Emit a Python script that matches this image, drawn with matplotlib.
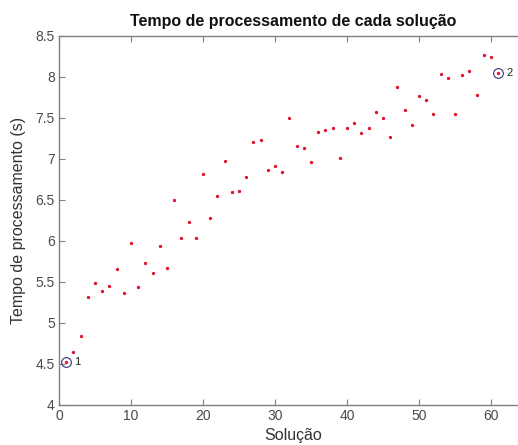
import matplotlib
matplotlib.use("Agg")
import matplotlib.pyplot as plt

plt.rcParams['font.family'] = ['Liberation Sans', 'DejaVu Sans']

solucao = list(range(1, 62))
tempo = [4.52, 4.64, 4.83, 5.31, 5.48, 5.39, 5.44, 5.65, 5.36, 5.97,
         5.43, 5.73, 5.61, 5.94, 5.67, 6.49, 6.03, 6.23, 6.03, 6.81,
         6.27, 6.55, 6.97, 6.59, 6.61, 6.78, 7.20, 7.23, 6.86, 6.91,
         6.84, 7.49, 7.15, 7.13, 6.96, 7.33, 7.35, 7.37, 7.01, 7.37,
         7.43, 7.31, 7.37, 7.57, 7.50, 7.26, 7.87, 7.59, 7.41, 7.76,
         7.71, 7.54, 8.03, 7.98, 7.55, 8.02, 8.07, 7.78, 8.26, 8.24,
         8.05]
marked_idx = [0, 60]
marked_labels = ['1', '2']
xticks = [0, 10, 20, 30, 40, 50, 60]
yticks = [4, 4.5, 5, 5.5, 6, 6.5, 7, 7.5, 8, 8.5]
ytick_labels = ['4', '4.5', '5', '5.5', '6', '6.5', '7', '7.5', '8', '8.5']

W, H = 518, 445
fig = plt.figure(figsize=(W / 100, H / 100), dpi=100)
left, bottom, top = 59, 404.5, 35.7
xmax = 65
px_per_unit = 7.2
ax = fig.add_axes([left / W, 1 - bottom / H, xmax * px_per_unit / W, (bottom - top) / H])

ax.plot(solucao, tempo, linestyle='none', marker='o', markersize=2.4,
        color='#e3122e', markeredgewidth=0)

for i, lab in zip(marked_idx, marked_labels):
    ax.plot(solucao[i], tempo[i], linestyle='none', marker='o', markersize=7,
            markerfacecolor='none', markeredgecolor='#33337a', markeredgewidth=0.8)
    ax.annotate(lab, (solucao[i], tempo[i]), xytext=(6, 0), textcoords='offset points',
                va='center', ha='left', fontsize=8, color='#222222')

ax.set_xlim(0, xmax)
ax.set_ylim(4, 8.5)
ax.set_xticks(xticks)
ax.set_yticks(yticks)
ax.set_yticklabels(ytick_labels)

spine_col = '#808080'
for s in ax.spines.values():
    s.set_color(spine_col)
    s.set_linewidth(1.0)
ax.tick_params(direction='in', length=4, width=0.8, color=spine_col,
               labelsize=10, labelcolor='#4a4a4a', top=True, right=True, pad=3)

ax.set_title('Tempo de processamento de cada solução', fontsize=11.5,
             fontweight='bold', pad=7, color='#111111')
ax.set_xlabel('Solução', fontsize=11.5, color='#333333', labelpad=4)
ax.set_ylabel('Tempo de processamento (s)', fontsize=11.5, color='#333333', labelpad=7)

fig.savefig('out.png', dpi=100)
